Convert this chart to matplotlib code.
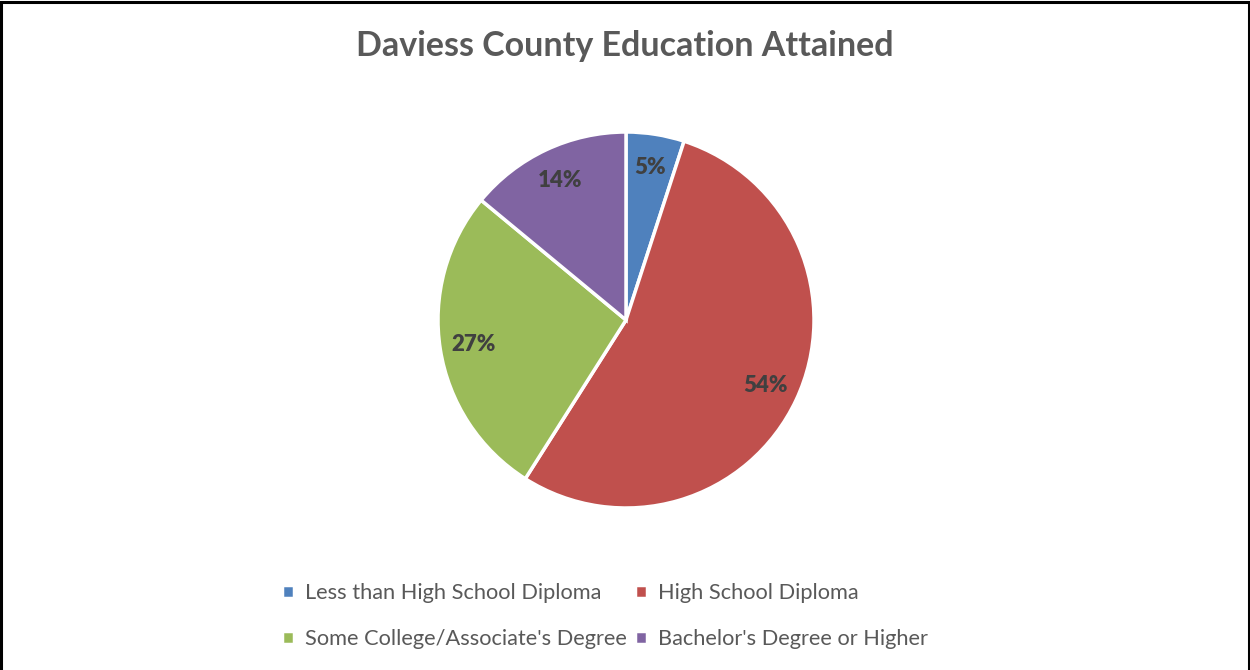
import matplotlib
matplotlib.use("Agg")
import matplotlib.pyplot as plt
from matplotlib.patches import Rectangle

# data
categories = ["Less than High School Diploma", "High School Diploma",
              "Some College/Associate's Degree", "Bachelor's Degree or Higher"]
shares = [5, 54, 27, 14]
colors = ["#4F81BD", "#C0504D", "#9BBB59", "#8064A2"]

plt.rcParams['font.family'] = ['Lato', 'DejaVu Sans']

fig = plt.figure(figsize=(12.5, 6.7), dpi=100)

# pie axes: centre ~ (626, 320) px, radius ~188 px
ax = fig.add_axes([(626 - 188) / 1250, (670 - 508) / 670, 376 / 1250, 376 / 670])
wedges, texts, autotexts = ax.pie(
    shares, colors=colors, startangle=90, counterclock=False,
    autopct='%1.0f%%', pctdistance=0.82,
    wedgeprops=dict(edgecolor='white', linewidth=2.5),
    textprops=dict(color='#404040', fontsize=16, fontweight='heavy'))
ax.set_xlim(-1, 1)
ax.set_ylim(-1, 1)
ax.set_aspect('equal')

fig.text(0.5, 0.932, "Daviess County Education Attained", ha='center', va='center',
         fontsize=24.5, fontweight='bold', color='#595959')

# legend filled row by row, like the reference
order = [0, 2, 1, 3]
leg = fig.legend([wedges[i] for i in order], [categories[i] for i in order],
                 loc='center', bbox_to_anchor=(0.484, 0.08), ncol=2,
                 frameon=False, fontsize=15.7, handlelength=0.55, handleheight=0.55,
                 handletextpad=0.5, columnspacing=0.35, labelspacing=1.2)
for t in leg.get_texts():
    t.set_color('#595959')

# black frame round the chart
fig.patches.append(Rectangle((0.0012, -0.05), 0.9976, 1.047, fill=False,
                             edgecolor='black', linewidth=2.2, transform=fig.transFigure))

fig.savefig("out.png", dpi=100, facecolor='white')
